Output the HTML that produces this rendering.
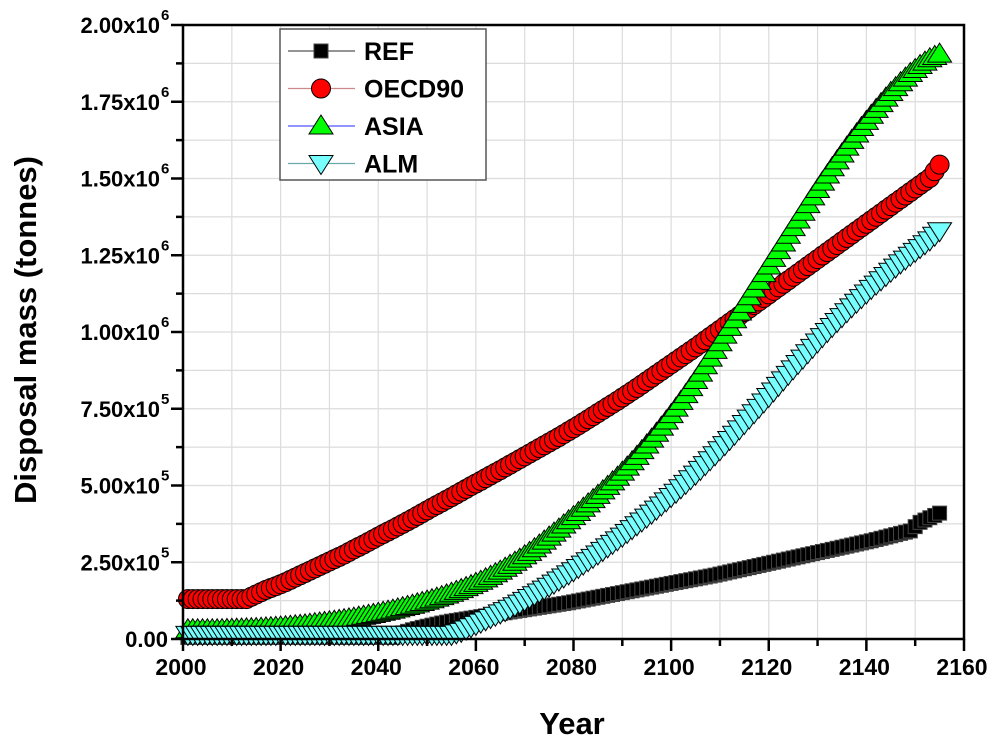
<!DOCTYPE html>
<html><head><meta charset="utf-8"><style>
body{margin:0;background:#fff;}
svg{display:block;font-family:"Liberation Sans",Arial,sans-serif;font-weight:bold;}
</style></head><body>
<svg id="chart" width="1000" height="748" viewBox="0 0 1000 748" xmlns="http://www.w3.org/2000/svg"></svg>
<script>
const years = [];
for (let y = 2001; y <= 2155; y += 2) years.push(y);
const refValues = [5,5,5,5,5,5,5,5,5,5,5,5,5,5,5,5,5,5,5,5,5,5,20,30,38,45,52,58,63,68,73,78,83,88,93,98,103,108,113,118,124,130,136,142,148,154,160,166,172,178,184,190,196,202,208,215,222,229,236,243,250,257,264,271,278,285,292,299,306,313,320,328,336,344,352,380,395,410];
const oecdValues = [130,130,130,130,130,130,130,145,160,172,185,200,215,230,245,260,275,292,308,325,342,358,375,392,410,428,445,462,480,498,515,533,550,568,586,604,622,640,658,677,696,716,736,756,776,797,818,840,862,884,906,928,950,973,996,1019,1042,1065,1088,1111,1134,1157,1180,1203,1226,1249,1272,1295,1318,1341,1364,1387,1410,1433,1456,1479,1502,1545];
const asiaValues = [30,30,30,30,31,32,33,34,36,38,40,43,46,50,54,58,63,68,74,80,87,94,102,110,119,128,138,149,161,174,188,204,221,240,260,282,306,332,358,385,412,440,468,497,527,560,595,632,670,710,752,796,842,890,940,990,1040,1090,1140,1190,1240,1290,1340,1390,1440,1488,1535,1580,1624,1666,1706,1744,1780,1812,1842,1868,1890,1905];
const almValues = [15,15,15,15,15,15,15,15,15,15,15,15,15,15,15,15,15,15,15,15,15,15,15,15,15,15,15,15,25,40,55,70,85,100,117,135,153,172,192,212,233,255,277,300,323,347,372,397,423,450,478,507,537,568,600,633,667,702,737,772,808,844,880,915,950,985,1018,1050,1082,1112,1142,1170,1198,1225,1250,1275,1300,1330];
const xTicks = [2000,2020,2040,2060,2080,2100,2120,2140,2160];
const yTickLabels = ["0.00","2.50x10|5","5.00x10|5","7.50x10|5","1.00x10|6","1.25x10|6","1.50x10|6","1.75x10|6","2.00x10|6"];

const NS = "http://www.w3.org/2000/svg";
const svg = document.getElementById('chart');
const L = 183, R = 964, T = 25, B = 639;
const xs = v => L + (v - 2000) / 160 * (R - L);
const ys = v => B - v / 2000 * (B - T);
function mk(tag, attrs, parent) {
  const e = document.createElementNS(NS, tag);
  for (const k in attrs) e.setAttribute(k, attrs[k]);
  (parent || svg).appendChild(e);
  return e;
}
const grid = mk('g', {});


for (let y = 2010; y < 2160; y += 10) mk('line', {x1: xs(y), x2: xs(y), y1: T, y2: B, stroke: '#dcdcdc', 'stroke-width': 1.2}, grid);
for (let v = 125; v < 2000; v += 125) mk('line', {x1: L, x2: R, y1: ys(v), y2: ys(v), stroke: '#dcdcdc', 'stroke-width': 1.2}, grid);

function marker(g, type, x, y, fill) {
  if (type === 'square') return mk('rect', {x: x - 7, y: y - 7, width: 14, height: 14, fill: fill, stroke: '#444', 'stroke-width': 1}, g);
  if (type === 'circle') return mk('circle', {cx: x, cy: y, r: 9.5, fill: fill, stroke: '#000', 'stroke-width': 1}, g);
  if (type === 'up') return mk('polygon', {points: `${x},${y - 11} ${x - 12},${y + 8} ${x + 12},${y + 8}`, fill: fill, stroke: '#000', 'stroke-width': 1}, g);
  return mk('polygon', {points: `${x},${y + 11} ${x - 12},${y - 8} ${x + 12},${y - 8}`, fill: fill, stroke: '#000', 'stroke-width': 1}, g);
}
const series = [
  {name: 'series-ref', vals: refValues, type: 'square', fill: '#000', line: '#555'},
  {name: 'series-oecd90', vals: oecdValues, type: 'circle', fill: '#f00', line: '#c88'},
  {name: 'series-asia', vals: asiaValues, type: 'up', fill: '#0f0', line: '#55f'},
  {name: 'series-alm', vals: almValues, type: 'down', fill: '#7ff', line: '#6aa'}
];
series.forEach(s => {
  const g = mk('g', {});
  
  
  mk('polyline', {points: years.map((y, i) => xs(y) + ',' + ys(s.vals[i])).join(' '), fill: 'none', stroke: s.line, 'stroke-width': 1}, g);
  years.forEach((y, i) => {
    const m = marker(g, s.type, xs(y), ys(s.vals[i]), s.fill);
    
    
    if (i < years.length - 1) {
      // visual in-between marker (the original plots yearly, very dense markers)
      const m2 = marker(g, s.type, (xs(y) + xs(years[i + 1])) / 2, (ys(s.vals[i]) + ys(s.vals[i + 1])) / 2, s.fill);
      
      
    }
  });
});
const frame = mk('rect', {x: L, y: T, width: R - L, height: B - T, fill: 'none', stroke: '#000', 'stroke-width': 2.5});


const xa = mk('g', {});


for (let y = 2000; y <= 2160; y += 10) mk('line', {x1: xs(y), x2: xs(y), y1: B, y2: B + (y % 20 === 0 ? 12 : 7), stroke: '#000', 'stroke-width': 2.5}, xa);
xTicks.forEach(t => {
  const tx = mk('text', {x: xs(t) - 2, y: B + 36, 'text-anchor': 'middle', 'font-size': 23}, xa);
  tx.textContent = t;
  
  
});
const ya = mk('g', {});


for (let v = 0; v <= 2000; v += 125) mk('line', {x1: L - (v % 250 === 0 ? 12 : 7), x2: L, y1: ys(v), y2: ys(v), stroke: '#000', 'stroke-width': 2.5}, ya);
yTickLabels.forEach((lab, i) => {
  const parts = lab.split('|');
  const tx = mk('text', {x: parts[1] ? 160 : 168, y: ys(i * 250) + 8, 'text-anchor': 'end', 'font-size': 22}, ya);
  tx.textContent = parts[0];
  
  
  if (parts[1]) {
    const ex = mk('text', {x: 161, y: ys(i * 250) - 5, 'text-anchor': 'start', 'font-size': 15}, ya);
    ex.textContent = parts[1];
  }
});
const yt = mk('text', {x: 0, y: 0, 'text-anchor': 'middle', 'font-size': 31, transform: 'translate(36,330) rotate(-90)'});
yt.textContent = 'Disposal mass (tonnes)';


const xt = mk('text', {x: 572, y: 734, 'text-anchor': 'middle', 'font-size': 31});
xt.textContent = 'Year';


const lg = mk('g', {});


mk('rect', {x: 280, y: 29, width: 206, height: 151, fill: '#fff', stroke: '#555', 'stroke-width': 1.5}, lg);
const labels = ['REF', 'OECD90', 'ASIA', 'ALM'];
series.forEach((s, i) => {
  const cy = 51 + i * 37.5;
  const e = mk('g', {}, lg);
  
  
  mk('line', {x1: 288, x2: 355, y1: cy, y2: cy, stroke: s.line, 'stroke-width': 1.2}, e);
  marker(e, s.type, 321, cy, s.fill);
  const t = mk('text', {x: 364, y: cy + 9, 'font-size': 25}, e);
  t.textContent = labels[i];
});
</script>
</body></html>
